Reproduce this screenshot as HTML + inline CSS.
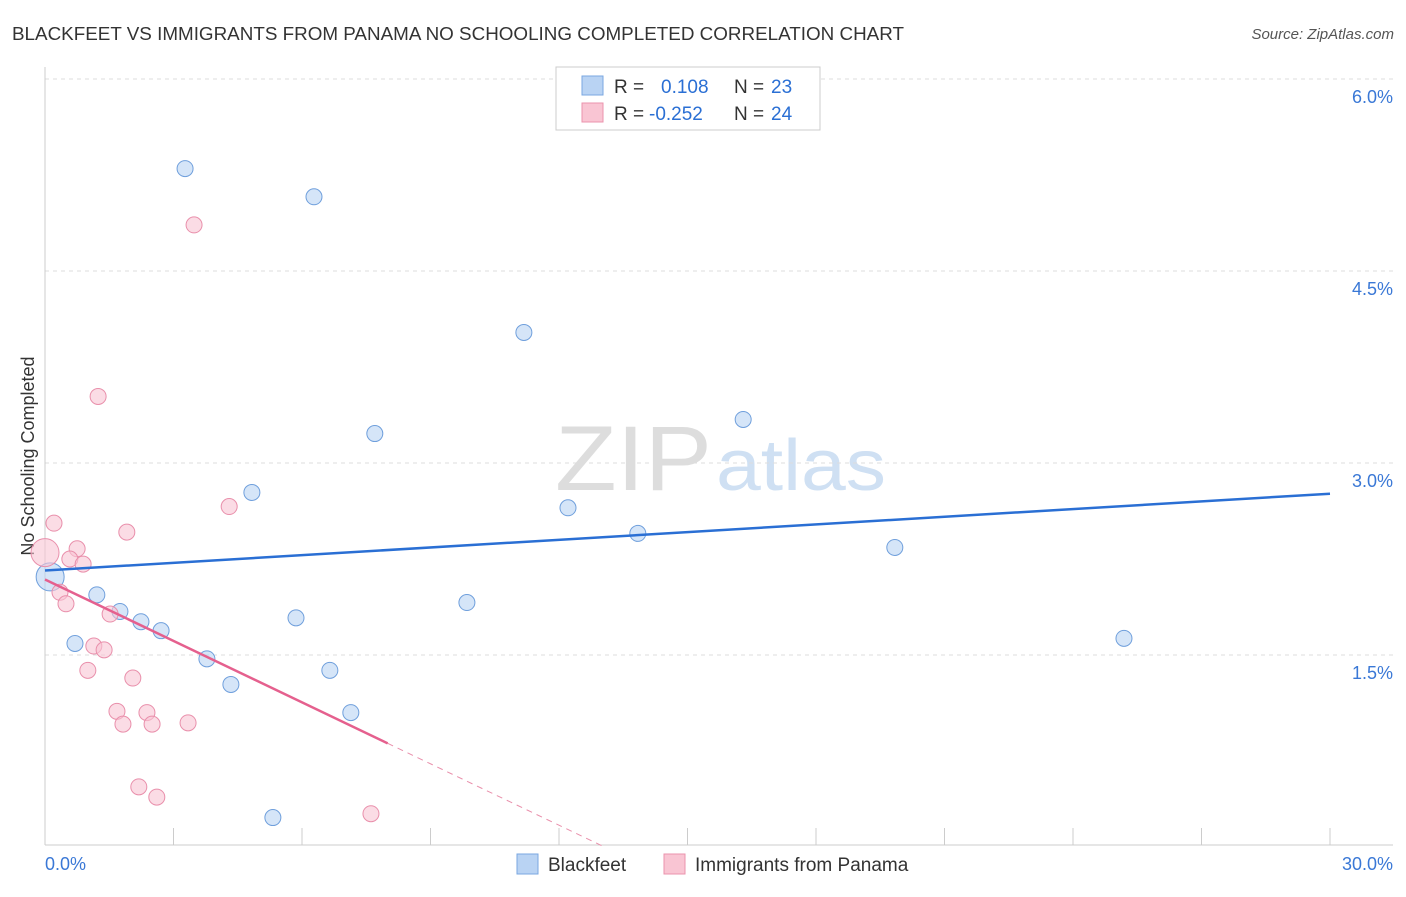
<!DOCTYPE html>
<html><head><meta charset="utf-8"><style>
body{margin:0;background:#fff;font-family:"Liberation Sans",sans-serif}
svg text{font-family:"Liberation Sans",sans-serif}
</style></head><body>
<svg width="1406" height="892" id="chart">
<text x="12" y="40" font-size="18" fill="#333" textLength="892" lengthAdjust="spacingAndGlyphs">BLACKFEET VS IMMIGRANTS FROM PANAMA NO SCHOOLING COMPLETED CORRELATION CHART</text>
<text x="1394" y="39" font-size="15" fill="#555" text-anchor="end" font-style="italic">Source: ZipAtlas.com</text>
<text x="555" y="490" font-size="92" fill="#ddd" textLength="157" lengthAdjust="spacingAndGlyphs" font-family="Liberation Serif">ZIP</text>
<text x="716" y="490" font-size="72" fill="#cfe0f3" textLength="170" lengthAdjust="spacingAndGlyphs">atlas</text>
<text transform="translate(34,456) rotate(-90)" font-size="18" fill="#333" text-anchor="middle">No Schooling Completed</text>
<g id="grid"></g><g id="marks"></g>
<g>
<rect x="556" y="67" width="264" height="63" fill="#fff" stroke="#ccc"/>
<rect x="582" y="76" width="21" height="19" fill="#b9d3f3" stroke="#7aa7e0"/>
<rect x="582" y="103" width="21" height="19" fill="#f9c5d3" stroke="#eb93ad"/>
<text y="93" font-size="19" fill="#333"><tspan x="614">R =</tspan><tspan x="661" fill="#2a6fd4">0.108</tspan><tspan x="734">N =</tspan><tspan x="771" fill="#2a6fd4">23</tspan></text>
<text y="120" font-size="19" fill="#333"><tspan x="614">R =</tspan><tspan x="649" fill="#2a6fd4">-0.252</tspan><tspan x="734">N =</tspan><tspan x="771" fill="#2a6fd4">24</tspan></text>
</g>
<g>
<rect x="517" y="854" width="21" height="20" fill="#b9d3f3" stroke="#7aa7e0"/>
<text x="548" y="871" font-size="19" fill="#333">Blackfeet</text>
<rect x="664" y="854" width="21" height="20" fill="#f9c5d3" stroke="#eb93ad"/>
<text x="695" y="871" font-size="19" fill="#333">Immigrants from Panama</text>
</g>
</svg>
<script>
const yTicks=[1.5,3.0,4.5,6.0];
const yTickLabels=["1.5%","3.0%","4.5%","6.0%"];
const xTicks=[0,3,6,9,12,15,18,21,24,27,30];
const blackfeetX=[3.27,6.28,11.18,7.70,16.3,4.83,12.21,13.84,19.84,9.85,5.86,25.19,1.21,1.75,2.24,2.71,0.70,3.78,6.65,4.34,7.14,5.32,0.12];
const blackfeetY=[5.30,5.08,4.02,3.23,3.34,2.77,2.65,2.45,2.34,1.91,1.79,1.63,1.97,1.84,1.76,1.69,1.59,1.47,1.38,1.27,1.05,0.23,2.11];
const panamaX=[3.48,1.24,4.30,1.91,0.21,0,0.75,0.58,0.89,0.35,0.49,1.52,1.14,1.38,1.00,2.05,1.68,2.38,1.82,2.50,3.34,2.19,2.61,7.61];
const panamaY=[4.86,3.52,2.66,2.46,2.53,2.30,2.33,2.25,2.21,1.99,1.90,1.82,1.57,1.54,1.38,1.32,1.06,1.05,0.96,0.96,0.97,0.47,0.39,0.26];
const blueLine=[2.16,2.76];
const pinkLine=[2.09,-0.16];
const X=v=>45+v/30*1285, Y=v=>847-v*128;
const NS="http://www.w3.org/2000/svg";
function mk(p,t,a){const e=document.createElementNS(NS,t);for(const k in a)e.setAttribute(k,a[k]);p.appendChild(e);return e;}
const g=document.getElementById('grid'),m=document.getElementById('marks');
yTicks.forEach((t,i)=>{const l=mk(g,'line',{x1:45,x2:1393,y1:Y(t),y2:Y(t),stroke:'#ddd','stroke-dasharray':'4,4'});

const tx=mk(g,'text',{x:1393,y:Y(t)+24,'font-size':18,fill:'#3a78d6','text-anchor':'end'});tx.textContent=yTickLabels[i];
});
mk(g,'line',{x1:45,x2:45,y1:67,y2:845,stroke:'#ccc'});
const xa=mk(g,'line',{x1:45,x2:1393,y1:845,y2:845,stroke:'#ccc'});

xTicks.forEach(t=>{const l=mk(g,'line',{x1:X(t),x2:X(t),y1:828,y2:845,stroke:'#ccc'});});
[["0.0%",45,'start'],["30.0%",1393,'end']].forEach(a=>{const t=mk(g,'text',{x:a[1],y:870,'font-size':18,fill:'#3a78d6','text-anchor':a[2]});t.textContent=a[0];});
function pts(xs,ys,fill,stroke,name){xs.forEach((x,i)=>{const big=(x<0.2);const c=mk(m,'circle',{cx:X(x),cy:Y(ys[i]),r:big?14:8,fill:fill,'fill-opacity':0.6,stroke:stroke,'stroke-width':1});
});}
pts(blackfeetX,blackfeetY,'#b9d3f3','#6f9fdc','blackfeet-point');
pts(panamaX,panamaY,'#f9c5d3','#e98fab','panama-point');
const bl=mk(m,'line',{x1:X(0),y1:Y(blueLine[0]),x2:X(30),y2:Y(blueLine[1]),stroke:'#2a6fd4','stroke-width':2.5});

const pe=8, pz=-pinkLine[0]/pinkLine[1];
const pl=mk(m,'line',{x1:X(0),y1:Y(pinkLine[0]),x2:X(pe),y2:Y(pinkLine[0]+pinkLine[1]*pe),stroke:'#e5608e','stroke-width':2.5});

const pd=mk(m,'line',{x1:X(pe),y1:Y(pinkLine[0]+pinkLine[1]*pe),x2:X(pz),y2:Y(0),stroke:'#e98fab','stroke-width':1,'stroke-dasharray':'6,5'});

</script>
</body></html>
